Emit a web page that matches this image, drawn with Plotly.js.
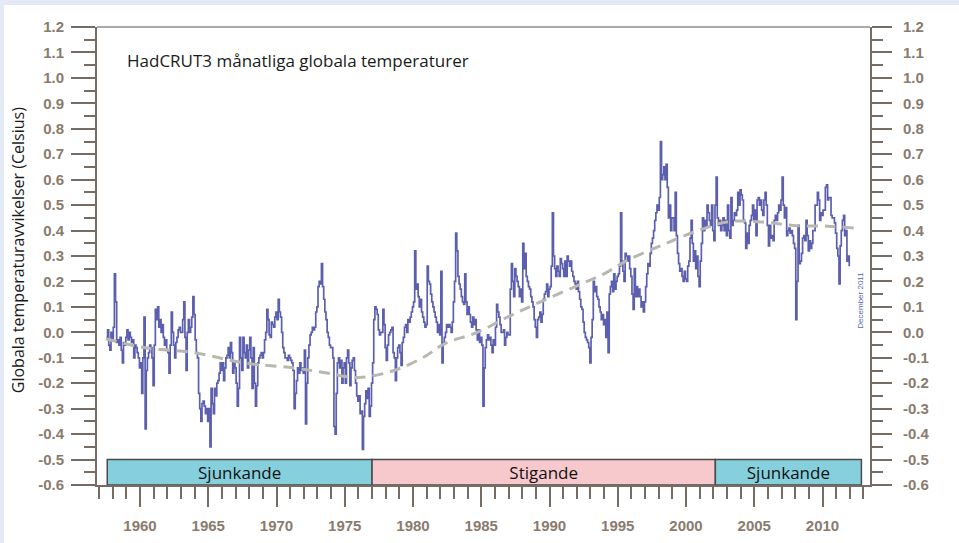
<!DOCTYPE html>
<html>
<head>
<meta charset="utf-8">
<script src="https://cdn.plot.ly/plotly-3.0.1.min.js"></script>
<style>
  html, body { margin: 0; padding: 0; background: #e4eaf5; width: 959px; height: 543px; overflow: hidden; }
  #chart { position: absolute; left: 4px; top: 5px; width: 955px; height: 538px; background: #ffffff; }
</style>
</head>
<body>
<div id="chart"></div>
<script>
// ---------------- DATA ----------------
// HadCRUT3 monthly global temperature anomalies, first value = July 1957
const firstYear = 1957;
const firstMonth = 7; // July

const anomaly1950s = [
  -0.02, 0.01, -0.05, -0.07, 0.00, -0.03,
  0.02, 0.23, 0.12, -0.04, -0.03, -0.05, -0.02, -0.07, -0.12, -0.04, -0.05, -0.02,
  0.01, -0.03, 0.00, -0.02, -0.04, -0.03, -0.10, -0.05, -0.06, -0.08, -0.10, -0.14
];
const anomaly1960s = [
  -0.12, -0.24, -0.10, 0.06, -0.38, -0.15, -0.10, -0.08, -0.05, -0.06, -0.10, -0.21,
  -0.05, 0.09, 0.05, 0.10, 0.02, 0.05, 0.00, 0.03, -0.02, -0.05, -0.03, -0.07,
  -0.08, -0.16, -0.05, 0.08, 0.00, -0.05, -0.10, -0.04, -0.02, 0.01, 0.02, 0.00,
  0.00, 0.05, 0.12, -0.02, -0.15, 0.00, 0.05, 0.00, 0.02, 0.06, 0.14, 0.07,
  -0.03, -0.08, -0.10, -0.24, -0.30, -0.35, -0.28, -0.27, -0.29, -0.32, -0.30, -0.35,
  -0.30, -0.45, -0.22, -0.28, -0.32, -0.22, -0.25, -0.20, -0.19, -0.16, -0.12, -0.15,
  -0.12, -0.19, -0.14, -0.10, -0.09, -0.06, -0.10, -0.04, -0.08, -0.16, -0.12, -0.14,
  -0.20, -0.29, -0.22, -0.02, -0.10, -0.15, -0.02, -0.08, -0.10, -0.05, -0.14, -0.07,
  -0.02, -0.10, -0.22, -0.06, -0.20, -0.29, -0.21, -0.12, -0.10, -0.09, -0.08, -0.10,
  -0.08, -0.03, 0.00, 0.09, 0.05, -0.01, -0.02, 0.04, 0.03, 0.02, 0.06, 0.08
];
const anomaly1970s = [
  0.05, 0.13, 0.08, 0.06, 0.00, -0.06, -0.08, -0.10, -0.10, -0.11, -0.09, -0.10,
  -0.11, -0.12, -0.15, -0.30, -0.24, -0.19, -0.14, -0.16, -0.12, -0.15, -0.14, -0.16,
  -0.07, -0.36, -0.20, -0.10, -0.05, -0.01, 0.00, 0.02, 0.01, 0.02, 0.08, 0.10,
  0.18, 0.20, 0.19, 0.27, 0.18, 0.13, 0.08, 0.05, 0.00, -0.02, -0.05, -0.06,
  -0.06, -0.10, -0.37, -0.40, -0.24, -0.12, -0.10, -0.14, -0.11, -0.20, -0.14, -0.12,
  -0.20, -0.10, -0.07, -0.12, -0.21, -0.14, -0.11, -0.10, -0.15, -0.20, -0.25, -0.27,
  -0.25, -0.32, -0.31, -0.46, -0.33, -0.28, -0.23, -0.26, -0.22, -0.33, -0.29, -0.20,
  -0.12, 0.05, 0.10, 0.09, 0.07, 0.01, -0.01, 0.00, 0.00, 0.09, 0.03, -0.06,
  -0.11, -0.05, -0.01, 0.00, 0.01, 0.02, -0.08, -0.10, -0.19, -0.10, -0.06, -0.05,
  -0.08, -0.13, -0.04, -0.02, 0.02, 0.03, 0.00, 0.05, 0.04, 0.06, 0.08, 0.10
];
const anomaly1980s = [
  0.12, 0.32, 0.17, 0.19, 0.14, 0.10, 0.13, 0.08, 0.06, 0.04, 0.02, 0.03,
  0.26, 0.20, 0.19, 0.15, 0.12, 0.10, 0.08, 0.06, 0.04, 0.00, 0.03, -0.01,
  0.24, -0.12, -0.04, -0.02, 0.00, 0.03, 0.02, 0.03, 0.02, 0.00, 0.04, 0.12,
  0.20, 0.39, 0.32, 0.22, 0.19, 0.17, 0.14, 0.12, 0.11, 0.23, 0.12, 0.07,
  0.10, 0.07, 0.04, 0.02, 0.06, 0.03, 0.05, 0.01, -0.03, 0.01, -0.04, -0.02,
  -0.05, -0.29, -0.14, -0.06, -0.03, -0.01, -0.03, -0.02, -0.05, -0.08, -0.03, -0.05,
  0.02, 0.11, 0.08, 0.06, 0.03, 0.00, 0.00, 0.01, -0.05, -0.02, 0.00, -0.01,
  -0.01, 0.17, 0.27, 0.20, 0.14, 0.25, 0.22, 0.20, 0.18, 0.14, 0.17, 0.12,
  0.35, 0.25, 0.31, 0.22, 0.20, 0.18, 0.17, 0.14, 0.12, 0.10, 0.05, 0.02,
  -0.02, 0.05, 0.06, 0.08, 0.04, 0.07, 0.13, 0.15, 0.16, 0.19, 0.14, 0.17
];
const anomaly1990s = [
  0.18, 0.26, 0.47, 0.30, 0.25, 0.22, 0.26, 0.24, 0.22, 0.29, 0.27, 0.25,
  0.22, 0.28, 0.22, 0.30, 0.28, 0.26, 0.28, 0.24, 0.22, 0.20, 0.19, 0.17,
  0.20, 0.16, 0.13, 0.10, 0.09, 0.04, 0.00, -0.02, -0.03, -0.04, -0.06, -0.12,
  -0.02, 0.05, 0.20, 0.16, 0.18, 0.14, 0.13, 0.10, 0.08, 0.05, 0.07, 0.03,
  0.05, -0.02, 0.08, -0.08, 0.15, 0.18, 0.20, 0.16, 0.23, 0.17, 0.20, 0.22,
  0.23, 0.26, 0.47, 0.28, 0.24, 0.20, 0.31, 0.30, 0.28, 0.30, 0.25, 0.22,
  0.15, 0.09, 0.25, 0.14, 0.18, 0.14, 0.17, 0.14, 0.10, 0.12, 0.08, 0.12,
  0.18, 0.23, 0.27, 0.26, 0.31, 0.35, 0.37, 0.40, 0.44, 0.47, 0.50, 0.48,
  0.53, 0.75, 0.60, 0.62, 0.65, 0.60, 0.66, 0.57, 0.45, 0.50, 0.40, 0.45,
  0.45, 0.40, 0.55, 0.38, 0.31, 0.27, 0.24, 0.25, 0.22, 0.20, 0.24, 0.21
];
const anomaly2000s = [
  0.20, 0.26, 0.28, 0.37, 0.44, 0.35, 0.28, 0.32, 0.25, 0.30, 0.22, 0.18,
  0.28, 0.35, 0.45, 0.40, 0.44, 0.41, 0.50, 0.47, 0.44, 0.42, 0.50, 0.40,
  0.36, 0.50, 0.61, 0.45, 0.42, 0.44, 0.40, 0.42, 0.45, 0.40, 0.44, 0.38,
  0.50, 0.40, 0.37, 0.53, 0.42, 0.44, 0.47, 0.46, 0.48, 0.55, 0.50, 0.56,
  0.54, 0.52, 0.44, 0.43, 0.33, 0.39, 0.35, 0.42, 0.44, 0.46, 0.50, 0.44,
  0.48, 0.38, 0.52, 0.53, 0.50, 0.52, 0.48, 0.46, 0.52, 0.55, 0.50, 0.42,
  0.34, 0.42, 0.37, 0.38, 0.36, 0.44, 0.46, 0.44, 0.47, 0.50, 0.48, 0.52,
  0.61, 0.50, 0.45, 0.49, 0.38, 0.40, 0.41, 0.39, 0.40, 0.38, 0.35, 0.33,
  0.05, 0.20, 0.42, 0.27, 0.28, 0.31, 0.37, 0.38, 0.36, 0.44, 0.38, 0.32,
  0.36, 0.33, 0.35, 0.40, 0.40, 0.50, 0.50, 0.55, 0.52, 0.44, 0.47, 0.46
];
const anomaly2010s = [
  0.48, 0.48, 0.57, 0.58, 0.52, 0.53, 0.53, 0.46, 0.45, 0.45, 0.43, 0.39,
  0.33, 0.30, 0.19, 0.34, 0.40, 0.44, 0.46, 0.38, 0.40, 0.28, 0.30, 0.26
];

// Smoothed trend (grey dashed line)
const trendYears  = [1957.5, 1960.3, 1964.0, 1967.6, 1971.3, 1973.7, 1976.0, 1978.6, 1980.8, 1982.3, 1984.7, 1987.2, 1989.6, 1992.1, 1994.0, 1995.7, 1998.2, 2000.6, 2003.0, 2005.5, 2007.9, 2010.4, 2012.3];
const trendValues = [-0.025, -0.06, -0.08, -0.12, -0.14, -0.16, -0.178, -0.15, -0.097, -0.045, 0.0, 0.067, 0.126, 0.185, 0.23, 0.283, 0.342, 0.394, 0.434, 0.434, 0.42, 0.417, 0.41];

// Periods (bottom band)
const periodLabels = ["Sjunkande", "Stigande", "Sjunkande"];
const periodStart  = [1957.6, 1977.0, 2002.15];
const periodEnd    = [1977.0, 2002.15, 2012.85];
const bandBottom = -0.6;
const bandTop = -0.5;

// Tick labels
const yTickValues = [-0.6, -0.5, -0.4, -0.3, -0.2, -0.1, 0.0, 0.1, 0.2, 0.3, 0.4, 0.5, 0.6, 0.7, 0.8, 0.9, 1.0, 1.1, 1.2];
const yTickLabels = ["-0.6", "-0.5", "-0.4", "-0.3", "-0.2", "-0.1", "0.0", "0.1", "0.2", "0.3", "0.4", "0.5", "0.6", "0.7", "0.8", "0.9", "1.0", "1.1", "1.2"];
const xTickValues = [1960, 1965, 1970, 1975, 1980, 1985, 1990, 1995, 2000, 2005, 2010];
const xTickLabels = ["1960", "1965", "1970", "1975", "1980", "1985", "1990", "1995", "2000", "2005", "2010"];

const chartTitle = "HadCRUT3 månatliga globala temperaturer";
const yTitle = "Globala temperaturavvikelser (Celsius)";
const stampText = "December 2011";

// ---------------- BUILD ----------------
const anomaly = [].concat(anomaly1950s, anomaly1960s, anomaly1970s, anomaly1980s, anomaly1990s, anomaly2000s, anomaly2010s);
const monthX = anomaly.map((v, i) => firstYear + (firstMonth - 1 + i + 0.5) / 12);

const periodMid = periodStart.map((s, i) => (s + periodEnd[i]) / 2);
const periodWidth = periodStart.map((s, i) => periodEnd[i] - s);
const periodHeight = periodStart.map(() => bandTop - bandBottom);

const axisCol = '#766c64';
const tickFont = { family: 'Liberation Sans, Arial, sans-serif', size: 15, color: '#8a7b6e', weight: 'bold' };
const textFont = 'Open Sans, Noto Sans, sans-serif';

const traces = [
  {
    type: 'bar',
    x: periodMid,
    y: periodHeight,
    base: bandBottom,
    width: periodWidth,
    text: periodLabels,
    textposition: 'inside',
    insidetextanchor: 'middle',
    constraintext: 'none',
    textangle: 0,
    textfont: { family: textFont, size: 17, color: '#111111' },
    marker: { color: ['#86cfdc', '#f7c8cc', '#86cfdc'], line: { color: '#4a4a4a', width: 1.5 } },
    hoverinfo: 'skip'
  },
  {
    type: 'scatter',
    mode: 'lines',
    x: monthX,
    y: anomaly,
    line: { color: '#5c5fae', width: 1.7, shape: 'hv' },
    hoverinfo: 'skip'
  },
  {
    type: 'scatter',
    mode: 'lines',
    x: trendYears,
    y: trendValues,
    yaxis: 'y2',
    line: { color: '#b8b8b0', width: 3, dash: '11px,7px', shape: 'spline' },
    hoverinfo: 'skip'
  }
];

const yCommon = {
  range: [-0.6, 1.2],
  tickmode: 'array',
  tickvals: yTickValues,
  ticktext: yTickLabels,
  ticks: 'outside',
  tickwidth: 2,
  tickcolor: axisCol,
  showline: true,
  linecolor: axisCol,
  linewidth: 2,
  showgrid: false,
  zeroline: false,
  fixedrange: true,
  tickfont: tickFont
};

const layout = {
  width: 955,
  height: 538,
  margin: { l: 93, r: 89, t: 22, b: 58 },
  paper_bgcolor: '#ffffff',
  plot_bgcolor: '#ffffff',
  showlegend: false,
  hovermode: false,
  bargap: 0,
  xaxis: {
    range: [1956.85, 2013.48],
    tickmode: 'array',
    tickvals: xTickValues,
    ticktext: xTickLabels,
    ticks: 'outside',
    ticklen: 20,
    tickwidth: 2,
    tickcolor: axisCol,
    ticklabelstandoff: 6,
    minor: { tickmode: 'linear', tick0: 1960, dtick: 1, ticks: 'outside', ticklen: 12, tickwidth: 2, tickcolor: axisCol, showgrid: false },
    showline: true,
    linecolor: axisCol,
    linewidth: 2,
    mirror: false,
    showgrid: false,
    zeroline: false,
    fixedrange: true,
    tickfont: tickFont
  },
  yaxis: Object.assign({}, yCommon, {
    side: 'left',
    ticklen: 24,
    ticklabelstandoff: 4,
    minor: { tickmode: 'linear', tick0: -0.6, dtick: 0.05, ticks: 'outside', ticklen: 11, tickwidth: 2, tickcolor: axisCol, showgrid: false }
  }),
  yaxis2: Object.assign({}, yCommon, {
    overlaying: 'y',
    side: 'right',
    ticklen: 20,
    ticklabelstandoff: 8,
    minor: { tickmode: 'linear', tick0: -0.6, dtick: 0.05, ticks: 'outside', ticklen: 11, tickwidth: 2, tickcolor: axisCol, showgrid: false }
  }),
  shapes: [
    { type: 'line', xref: 'paper', yref: 'paper', x0: 0, x1: 1, y0: 1, y1: 1, line: { color: '#5a5450', width: 1.2 } }
  ],
  annotations: [
    { xref: 'paper', yref: 'paper', x: 0.036, y: 0.926, xanchor: 'left', yanchor: 'middle', showarrow: false,
      text: chartTitle, font: { family: textFont, size: 17, color: '#1a1a1a' } },
    { xref: 'paper', yref: 'paper', x: -0.102, y: 0.513, xanchor: 'center', yanchor: 'middle', showarrow: false,
      textangle: -90, text: yTitle, font: { family: textFont, size: 16, color: '#1a1a1a' } },
    { xref: 'paper', yref: 'paper', x: 0.988, y: 0.404, xanchor: 'center', yanchor: 'middle', showarrow: false,
      textangle: -90, text: stampText, font: { family: 'Liberation Sans, Arial, sans-serif', size: 8, color: '#5a5fb0' } }
  ]
};

Plotly.newPlot('chart', traces, layout, { staticPlot: true, displayModeBar: false });
</script>
</body>
</html>
